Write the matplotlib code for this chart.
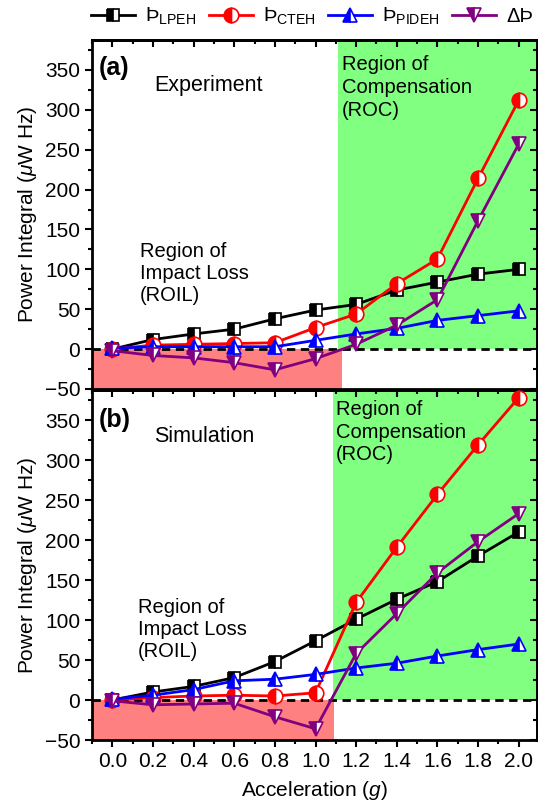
import numpy as np
import matplotlib
matplotlib.use("Agg")
import matplotlib.pyplot as plt
from matplotlib.ticker import MultipleLocator

plt.rcParams['font.family'] = ['Liberation Sans', 'DejaVu Sans']
plt.rcParams['mathtext.fontset'] = 'custom'
plt.rcParams['mathtext.rm'] = 'Liberation Sans'
plt.rcParams['mathtext.it'] = 'Liberation Sans:italic'
plt.rcParams['mathtext.bf'] = 'Liberation Sans:bold'

# data
accel = [0.0, 0.2, 0.4, 0.6, 0.8, 1.0, 1.2, 1.4, 1.6, 1.8, 2.0]

exp_lpeh = [0, 12, 19, 25, 38, 49, 56, 74, 84, 94, 100]
exp_cteh = [0, 5, 6, 7, 8, 27, 44, 82, 113, 214, 312]
exp_pideh = [1, 3, 3, 3, 3, 11, 19, 26, 36, 42, 48]
exp_delta = [-2, -8, -11, -17, -26, -12, 6, 30, 62, 161, 257]

sim_lpeh = [0, 10, 17, 28, 48, 74, 101, 126, 148, 180, 210]
sim_cteh = [0, 3, 5, 6, 5, 9, 122, 191, 257, 319, 378]
sim_pideh = [1, 6, 13, 24, 26, 32, 40, 46, 55, 63, 70]
sim_delta = [-1, -6, -5, -4, -21, -36, 58, 108, 159, 198, 233]

labels = ['Þ$_{\\mathrm{LPEH}}$', 'Þ$_{\\mathrm{CTEH}}$', 'Þ$_{\\mathrm{PIDEH}}$', 'ΔÞ']
colors = ['black', '#ff0000', '#0000ff', '#800080']
markers = ['s', 'o', '^', 'v']
msizes = [9, 10.5, 10.5, 10.5]

fig = plt.figure(figsize=(5.38, 8.08), dpi=100)
ax_a = fig.add_axes([92/538, 1-389/808, 445/538, 349/808])
ax_b = fig.add_axes([92/538, 1-740/808, 445/538, 350/808])

panels = [
    (ax_a, [exp_lpeh, exp_cteh, exp_pideh, exp_delta], '(a)', 'Experiment', 1.111, 1.128),
    (ax_b, [sim_lpeh, sim_cteh, sim_pideh, sim_delta], '(b)', 'Simulation', 1.084, 1.09),
]

for ax, series, tag, title, g0, r1 in panels:
    ax.set_xlim(-0.1, 2.09)
    ax.set_ylim(-50, 387.5)
    ax.axvspan(g0, 2.2, ymin=50/437.5, ymax=1, color='#80ff80', lw=0, zorder=0)
    ax.axvspan(-0.2, r1, ymin=0, ymax=50/437.5, color='#ff8080', lw=0, zorder=0)
    ax.axhline(0, color='black', ls=(0, (3, 2)), lw=2, zorder=1)
    for ys, c, m, ms, lab in zip(series, colors, markers, msizes, labels):
        ax.plot(accel, ys, color=c, lw=2, marker=m, ms=ms, fillstyle='left',
                markerfacecoloralt='white', markeredgecolor=c, markeredgewidth=1.2,
                label=lab, zorder=3)
    ax.xaxis.set_major_locator(MultipleLocator(0.2))
    ax.xaxis.set_minor_locator(MultipleLocator(0.1))
    ax.yaxis.set_major_locator(MultipleLocator(50))
    ax.yaxis.set_minor_locator(MultipleLocator(25))
    ax.tick_params(which='both', direction='out', top=False, right=False, width=1.5)
    ax.tick_params(which='major', length=5, labelsize=15)
    ax.tick_params(which='minor', length=3)
    sx = ax.secondary_xaxis('top')
    sx.xaxis.set_major_locator(MultipleLocator(0.2))
    sx.xaxis.set_minor_locator(MultipleLocator(0.1))
    sx.tick_params(which='both', direction='in', labeltop=False, width=1.5)
    sx.tick_params(which='major', length=5)
    sx.tick_params(which='minor', length=3)
    sy = ax.secondary_yaxis('right')
    sy.yaxis.set_major_locator(MultipleLocator(50))
    sy.yaxis.set_minor_locator(MultipleLocator(25))
    sy.tick_params(which='both', direction='in', labelright=False, width=1.5)
    sy.tick_params(which='major', length=5)
    sy.tick_params(which='minor', length=3)
    for sp in list(ax.spines.values()) + [sx.spines['top'], sy.spines['right']]:
        sp.set_linewidth(2)
    ax.set_ylabel('Power Integral ($\\mu$W Hz)', fontsize=15, labelpad=4)
    ax.text(0.016, 0.92 if tag == '(a)' else 0.914, tag, transform=ax.transAxes,
            fontsize=18, fontweight='bold', va='center')
    ax.text(0.139, 0.87 if tag == '(a)' else 0.866, title, transform=ax.transAxes,
            fontsize=15.5, va='center')

ax_a.text(0.562, 0.957, 'Region of\nCompensation\n(ROC)', transform=ax_a.transAxes,
          fontsize=14.5, va='top', linespacing=1.25)
ax_a.text(0.107, 0.42, 'Region of\nImpact Loss\n(ROIL)', transform=ax_a.transAxes,
          fontsize=14.5, va='top', linespacing=1.2)
ax_b.text(0.548, 0.972, 'Region of\nCompensation\n(ROC)', transform=ax_b.transAxes,
          fontsize=14.5, va='top', linespacing=1.25)
ax_b.text(0.103, 0.405, 'Region of\nImpact Loss\n(ROIL)', transform=ax_b.transAxes,
          fontsize=14.5, va='top', linespacing=1.2)

ax_a.tick_params(labelbottom=False)
ax_b.set_xlabel('Acceleration ($g$)', fontsize=15, labelpad=6)

handles, labs = ax_a.get_legend_handles_labels()
fig.legend(handles, labs, loc='upper center', bbox_to_anchor=(0.58, 1.008), ncol=4,
           frameon=False, fontsize=14.5, handlelength=2.2, handletextpad=0.5,
           columnspacing=0.6, borderaxespad=0.2)

fig.savefig('out.png', dpi=100)
